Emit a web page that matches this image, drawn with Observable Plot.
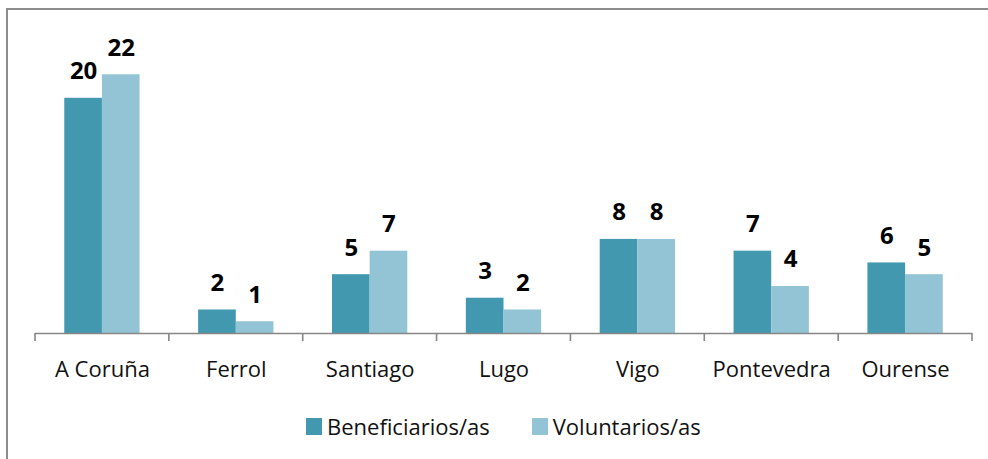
<!DOCTYPE html>
<html>
<head>
<meta charset="utf-8">
<script src="https://cdn.jsdelivr.net/npm/d3@7"></script>
<script src="https://cdn.jsdelivr.net/npm/@observablehq/plot@0.6"></script>
<style>
  html, body { margin: 0; padding: 0; background: #fff; }
  #wrap { position: relative; width: 988px; height: 459px; overflow: hidden; background: #fff; font-family: "Open Sans", sans-serif; }
  #frame { position: absolute; left: 6px; top: 8px; width: 1000px; height: 500px; border-left: 2px solid #8c8c8c; border-top: 2px solid #8c8c8c; box-sizing: border-box; }
  #chart { position: absolute; left: 0; top: 0; }
  #legend { position: absolute; top: 411px; left: 306px; display: flex; align-items: center; font-size: 22px; color: #111; }
  .item { display: flex; align-items: center; }
  .sw { width: 16px; height: 17px; margin-right: 5px; }
</style>
</head>
<body>
<div id="wrap">
  <div id="frame"></div>
  <div id="chart"></div>
  <div id="legend"></div>
</div>
<script>
const cities = ["A Coruña", "Ferrol", "Santiago", "Lugo", "Vigo", "Pontevedra", "Ourense"];
const series = ["Beneficiarios/as", "Voluntarios/as"];
const beneficiarios = [20, 2, 5, 3, 8, 7, 6];
const voluntarios = [22, 1, 7, 2, 8, 4, 5];
const colors = ["#4198af", "#93c4d6"];

const data = [];
cities.forEach((c, i) => {
  data.push({city: c, serie: series[0], value: beneficiarios[i]});
  data.push({city: c, serie: series[1], value: voluntarios[i]});
});

const plot = Plot.plot({
  width: 988,
  height: 395,
  marginLeft: 35,
  marginRight: 16,
  marginTop: 39,
  marginBottom: 62,
  style: {fontFamily: "Open Sans, sans-serif", background: "transparent"},
  fx: {domain: cities, paddingInner: 0, paddingOuter: 0, round: false, label: null},
  x: {domain: series, paddingInner: 0, paddingOuter: 0.777, round: false, axis: null},
  y: {domain: [0, 25], axis: null},
  color: {domain: series, range: colors},
  marks: [
    Plot.barY(data, {fx: "city", x: "serie", y: "value", fill: "serie", inset: 0}),
    Plot.text(data, {fx: "city", x: "serie", y: "value", text: d => String(d.value), lineAnchor: "bottom", dy: -19, fontSize: 24, fontWeight: "bold", fill: "#000"}),
    Plot.ruleY([0], {stroke: "#868686", strokeWidth: 1.6}),
    Plot.axisFx({anchor: "bottom", tickSize: 0, tickPadding: 28, fontSize: 22, label: null, color: "#111"})
  ]
});

document.getElementById("chart").appendChild(plot);

// boundary tick marks from the fx band scale
const fx = plot.scale("fx");
const yS = plot.scale("y");
const y0 = yS.apply(0);
const bounds = fx.domain.map(c => fx.apply(c)).concat([fx.apply(fx.domain[fx.domain.length - 1]) + fx.bandwidth]);
d3.select(plot).append("g")
  .selectAll("line").data(bounds).join("line")
  .attr("x1", d => d).attr("x2", d => d)
  .attr("y1", y0).attr("y2", y0 + 8)
  .attr("stroke", "#868686").attr("stroke-width", 1.6);

// legend
const lg = d3.select("#legend");
series.forEach((s, i) => {
  const it = lg.append("div").attr("class", "item").style("margin-right", i === 0 ? "42px" : "0");
  it.append("div").attr("class", "sw").style("background", colors[i]);
  it.append("span").text(s);
});
</script>
</body>
</html>
